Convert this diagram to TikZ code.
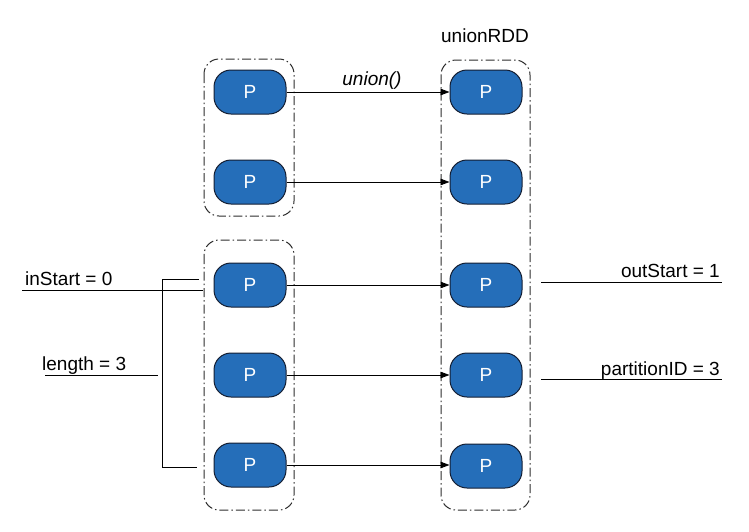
\documentclass[tikz,border=0pt]{standalone}
\usepackage{fontspec}
\setmainfont{Liberation Sans}
\usetikzlibrary{arrows.meta}
\definecolor{pblue}{RGB}{37,110,185}
\definecolor{pborder}{RGB}{20,30,50}
\definecolor{grpline}{RGB}{45,45,45}
\tikzset{
  x=1pt,y=-1pt,
  pnode/.style={draw=pborder,line width=1pt,fill=pblue,rounded corners=17pt,
    minimum width=72pt,minimum height=44pt,inner sep=0pt,text=white,
    font=\fontsize{19}{22}\selectfont},
  grp/.style={draw=grpline,line width=1pt,rounded corners=15pt,
    dash pattern=on 9pt off 3pt on 1.5pt off 3pt},
  conn/.style={draw=black,line width=0.8pt,-{Triangle[length=9pt,width=6.5pt]}},
  ann/.style={draw=black,line width=0.8pt},
  lbl/.style={inner sep=0pt,font=\fontsize{19}{22}\selectfont},
}
\begin{document}
\begin{tikzpicture}
\useasboundingbox (0,0) rectangle (749,531);
% groups
\draw[grp] (204,59) rectangle (294,216);
\draw[grp] (204,240) rectangle (294,510);
\draw[grp] (441,60) rectangle (530,510);
% left nodes
\node[pnode] (l1) at (250,92) {P};
\node[pnode] (l2) at (250,182) {P};
\node[pnode] (l3) at (250,285) {P};
\node[pnode] (l4) at (250,375) {P};
\node[pnode] (l5) at (250,465) {P};
% right nodes
\node[pnode] (r1) at (486,92) {P};
\node[pnode] (r2) at (486,182) {P};
\node[pnode] (r3) at (486,285) {P};
\node[pnode] (r4) at (486,375) {P};
\node[pnode] (r5) at (486,466) {P};
% connectors
\foreach \i in {1,...,5} \draw[conn] (l\i.east) -- (r\i.west |- l\i.east);
% labels
\node[lbl,anchor=base] (rdd) at (485,42) {unionRDD};
\node[lbl,anchor=base,font=\fontsize{19}{22}\selectfont\itshape] (un) at (372,85) {union()};
% left annotations
\node[lbl,anchor=base west] (ins) at (25,285) {inStart = 0};
\coordinate (insA) at (22,290);
\coordinate (insB) at (203,290);
\draw[ann] (insA) -- (insB);
\node[lbl,anchor=base west] (len) at (42,370) {length = 3};
\coordinate (lenA) at (45,375);
\coordinate (lenB) at (158,375);
\draw[ann] (lenA) -- (lenB);
\coordinate (brT) at (199,279);
\coordinate (brB) at (197,467);
\draw[ann] (brT) -- (162,279) -- (162,467) -- (brB);
% right annotations
\node[lbl,anchor=base east] (outs) at (720,277) {outStart = 1};
\coordinate (outA) at (541,282);
\coordinate (outB) at (722,282);
\draw[ann] (outA) -- (outB);
\node[lbl,anchor=base east] (pid) at (720,375) {partitionID = 3};
\coordinate (pidA) at (541,379);
\coordinate (pidB) at (722,379);
\draw[ann] (pidA) -- (pidB);
\end{tikzpicture}
\end{document}
